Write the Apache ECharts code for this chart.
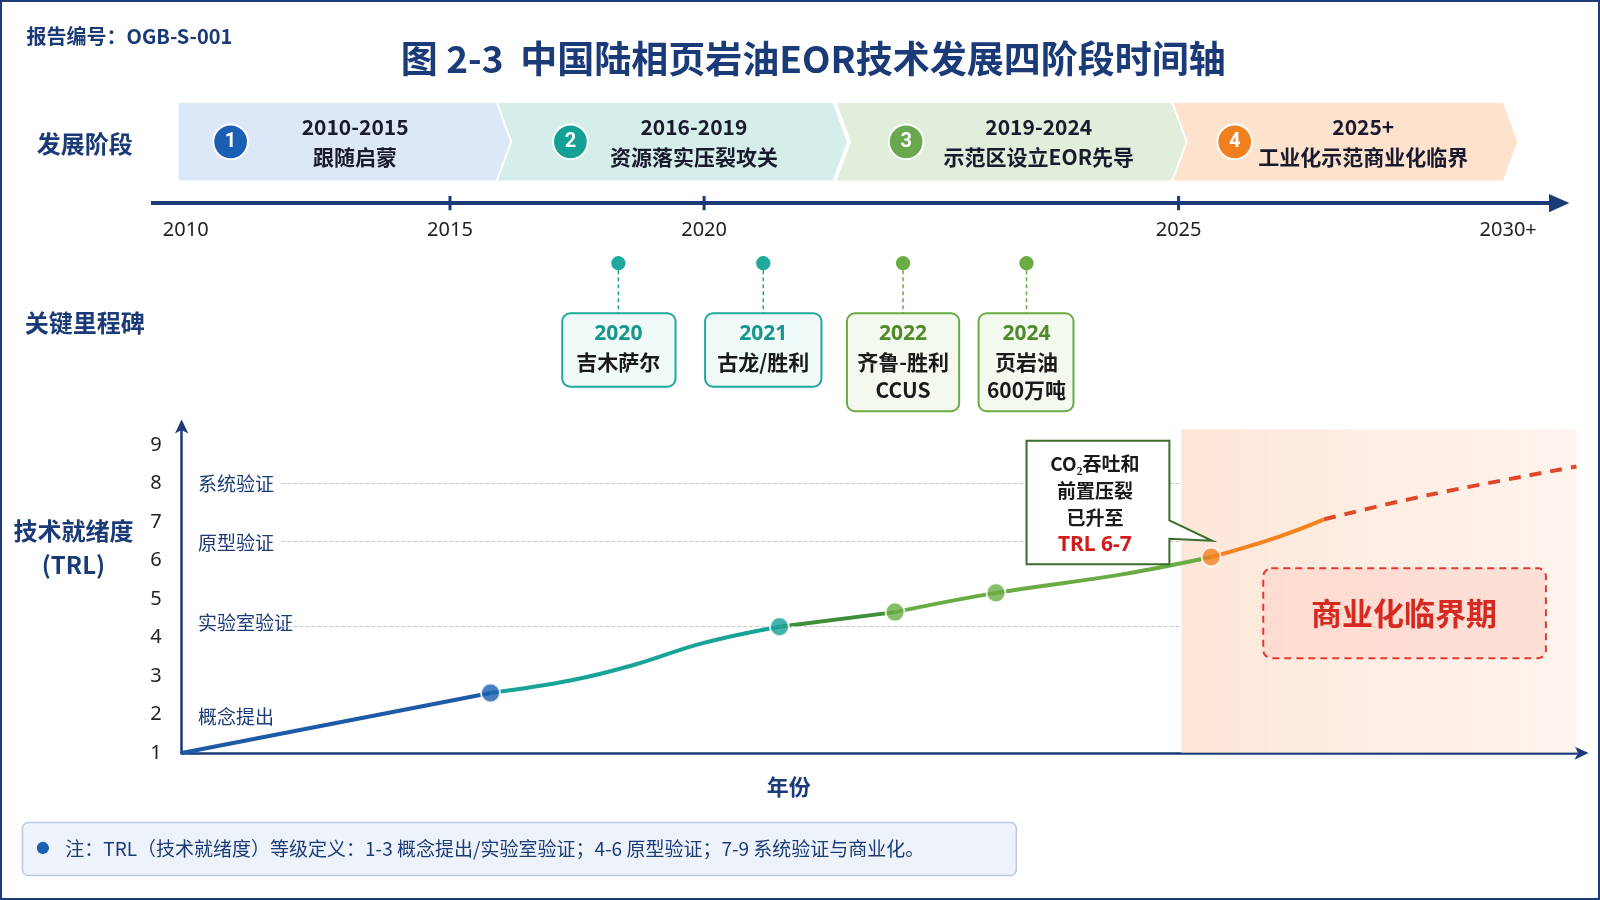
<!DOCTYPE html>
<html><head><meta charset="utf-8">
<script src="https://cdn.jsdelivr.net/npm/echarts@6/dist/echarts.min.js"></script>
<style>html,body{margin:0;background:#fff}#c{width:1600px;height:900px}</style></head>
<body><div id="c"></div>
<script>
// ---- data ----
const stageNums = ['1','2','3','4'];
const stagePeriods = ['2010-2015','2016-2019','2019-2024','2025+'];
const stageNames = ['跟随启蒙','资源落实压裂攻关','示范区设立EOR先导','工业化示范商业化临界'];
const timelineLabels = ['2010','2015','2020','2025','2030+'];
const milestoneYears = ['2020','2021','2022','2024'];
const milestoneTexts = ['吉木萨尔','古龙/胜利','齐鲁-胜利\nCCUS','页岩油\n600万吨'];
const trlLevels = [8, 6.5, 4.3];
const trlLevelNames = ['系统验证','原型验证','实验室验证'];
const seg1X = [2010, 2014.65], seg1Y = [1, 2.56];
const seg2X = [2014.65, 2015.87, 2016.79, 2017.86, 2019.0], seg2Y = [2.56, 2.89, 3.28, 3.86, 4.28];
const seg3X = [2019.0, 2020.74], seg3Y = [4.28, 4.66];
const seg4X = [2020.74, 2022.26, 2024.16, 2025.5], seg4Y = [4.66, 5.16, 5.64, 6.09];
const seg5X = [2025.5, 2026.47, 2027.2], seg5Y = [6.09, 6.59, 7.07];
const seg6X = [2027.2, 2028.77, 2031], seg6Y = [7.07, 7.7, 8.44];
const keyX = [2014.65, 2019.0, 2020.74, 2022.26, 2025.5], keyY = [2.56, 4.28, 4.66, 5.16, 6.09];

const k = 1600/1568;
const S = v => v*k;
const navy = '#1b3a78';
const zip = (a,b)=>a.map((v,i)=>[v,b[i]]);

const g = [];
// border
g.push({type:'rect',shape:{x:1,y:1,width:1598,height:898},style:{fill:'none',stroke:'#1b3a78',lineWidth:2},silent:true});
g.push({type:'text',x:S(26),y:S(36),style:{text:'报告编号：OGB-S-001',font:'bold 20px "Noto Sans CJK SC"',fill:navy,verticalAlign:'middle'}});
g.push({type:'text',x:S(797),y:S(58),style:{text:'图 2-3  中国陆相页岩油EOR技术发展四阶段时间轴',font:'bold 37px "Noto Sans CJK SC"',fill:navy,align:'center',verticalAlign:'middle'}});
[['发展阶段',141],['关键里程碑',316]].forEach(([t,y])=>g.push({type:'text',x:S(83),y:S(y),style:{text:t,font:'bold 24px "Noto Sans CJK SC"',fill:navy,align:'center',verticalAlign:'middle'}}));
g.push({type:'text',x:S(72),y:S(537),style:{text:'技术就绪度\n(TRL)',font:'bold 24px "Noto Sans CJK SC"',fill:navy,align:'center',verticalAlign:'middle',lineHeight:34}});

// stages
const stX = [[175,500],[488,830],[820,1162],[1150,1487]];
const stFill = ['#dce7f7','#d5eeea','#e1eedb','#fde2cd'];
const stCirc = ['#1a5fb4','#14a094','#6aa84f','#f07f1f'];
const stCx = [226,559,888,1210], stTx = [348,680,1018,1336];
stX.forEach(([a,b],i)=>{
  const pts = [[a,101],[b-14,101],[b,139],[b-14,177],[a,177]];
  if(i>0) pts.push([a+14,139]);
  g.push({type:'polygon',shape:{points:pts.map(p=>[S(p[0]),S(p[1])])},style:{fill:stFill[i]},z:1});
  g.push({type:'circle',shape:{cx:S(stCx[i]),cy:S(139),r:S(17)},style:{fill:stCirc[i],stroke:'#fff',lineWidth:2},z:2});
  g.push({type:'text',x:S(stCx[i]),y:S(139),style:{text:stageNums[i],font:'bold 20px Roboto',fill:'#fff',align:'center',verticalAlign:'middle'},z:3});
  g.push({type:'text',x:S(stTx[i]),y:S(139),style:{text:stagePeriods[i]+'\n'+stageNames[i],font:'bold 21px "Noto Sans CJK SC"',fill:'#1a1a2e',align:'center',verticalAlign:'middle',lineHeight:30},z:3});
});
// timeline
g.push({type:'line',shape:{x1:S(148),y1:S(199),x2:S(1522),y2:S(199)},style:{stroke:navy,lineWidth:4}});
g.push({type:'polygon',shape:{points:[[S(1518),S(190)],[S(1538),S(199)],[S(1518),S(208)]]},style:{fill:navy}});
const tlX = [182,441,690,1155,1478];
tlX.forEach((x,i)=>{
  if(i>0&&i<4) g.push({type:'line',shape:{x1:S(x),y1:S(192),x2:S(x),y2:S(206)},style:{stroke:navy,lineWidth:3}});
  g.push({type:'text',x:S(x),y:S(226),style:{text:timelineLabels[i],font:'20px "Noto Sans"',fill:'#222',align:'center',verticalAlign:'middle'}});
});
// milestones
const msX=[606,748,885,1006], msBox=[[551,662,379],[691,805,379],[830,940,403],[959,1052,403]];
const msCol=['#1fa89c','#1fa89c','#6aac44','#6aac44'], msTxt=['#17968b','#17968b','#4f8b2a','#4f8b2a'];
const msFill=['#f0faf8','#f0faf8','#f4f9ef','#f4f9ef'];
msX.forEach((x,i)=>{
  g.push({type:'line',shape:{x1:S(x),y1:S(258),x2:S(x),y2:S(307)},style:{stroke:msCol[i],lineWidth:1.5,lineDash:[4,3]}});
  g.push({type:'circle',shape:{cx:S(x),cy:S(258),r:S(7)},style:{fill:msCol[i]}});
  const [a,b,bt]=msBox[i];
  g.push({type:'rect',shape:{x:S(a),y:S(307),width:S(b-a),height:S(bt-307),r:8},style:{fill:msFill[i],stroke:msCol[i],lineWidth:2}});
  g.push({type:'text',x:S(x),y:S(327),style:{text:milestoneYears[i],font:'bold 21px "Noto Sans"',fill:msTxt[i],align:'center',verticalAlign:'middle'}});
  g.push({type:'text',x:S(x),y:S(341),style:{text:milestoneTexts[i],font:'bold 21px "Noto Sans CJK SC"',fill:'#1a1a1a',align:'center',verticalAlign:'top',lineHeight:28}});
});
// trl level labels
[['系统验证',474],['原型验证',532],['实验室验证',610],['概念提出',702]].forEach(([t,y])=>g.push({type:'text',x:S(194),y:S(y),style:{text:t,font:'19px "Noto Sans CJK SC"',fill:navy,verticalAlign:'middle'},z:5}));
// callout
g.push({type:'polygon',shape:{points:[[1006,432],[1146,432],[1146,510],[1188,530],[1146,528],[1146,553],[1006,553]].map(p=>[S(p[0]),S(p[1])])},style:{fill:'#fff',stroke:'#3b6e2c',lineWidth:2},z:10});
g.push({type:'text',x:S(1073),y:S(494),style:{text:'{a|CO₂吞吐和}\n{a|前置压裂}\n{a|已升至}\n{b|TRL 6-7}',align:'center',verticalAlign:'middle',rich:{a:{font:'bold 19px "Noto Sans CJK SC"',fill:'#1a1a1a',lineHeight:27,align:'center'},b:{font:'bold 21px "Noto Sans"',fill:'#d01c1c',lineHeight:27,align:'center'}}},z:11});
// commercial box
g.push({type:'rect',shape:{x:S(1238),y:S(557),width:S(277),height:S(88),r:8},style:{fill:'rgba(253,215,205,0.7)',stroke:'#e03a32',lineWidth:2,lineDash:[7,5]},z:6});
g.push({type:'text',x:S(1376),y:S(601),style:{text:'商业化临界期',font:'bold 31px "Noto Sans CJK SC"',fill:'#d42a22',align:'center',verticalAlign:'middle'},z:7});
g.push({type:'text',x:S(773),y:S(771),style:{text:'年份',font:'bold 22px "Noto Sans CJK SC"',fill:navy,align:'center',verticalAlign:'middle'}});
// note
g.push({type:'rect',shape:{x:S(22),y:S(806),width:S(974),height:S(52),r:6},style:{fill:'#eef3fb',stroke:'#b9c8e0',lineWidth:1.5}});
g.push({type:'circle',shape:{cx:S(42),cy:S(831),r:S(6)},style:{fill:'#1a5fb4'}});
g.push({type:'text',x:S(64),y:S(832),style:{text:'注：TRL（技术就绪度）等级定义：1-3 概念提出/实验室验证；4-6 原型验证；7-9 系统验证与商业化。',font:'19px "Noto Sans CJK SC"',fill:navy,verticalAlign:'middle'}});

const lineSeg=(data,color,extra={})=>Object.assign({type:'line',data,smooth:0.4,symbol:'none',lineStyle:{color,width:4},z:4},extra);
const chart = echarts.init(document.getElementById('c'));
chart.setOption({
  animation:false,
  grid:{left:S(178),right:1600-S(1545),top:S(421),bottom:900-S(738)},
  xAxis:{type:'value',min:2010,max:2031,axisLabel:{show:false},axisTick:{show:false},splitLine:{show:false},
    axisLine:{lineStyle:{color:navy,width:2.5},symbol:['none','arrow'],symbolSize:[10,14],symbolOffset:[0,12]}},
  yAxis:{type:'value',min:1,max:9.4,interval:1,splitLine:{show:false},axisTick:{show:false},
    axisLabel:{fontSize:20,color:'#222',margin:20,fontFamily:'Noto Sans',formatter:v=>v<=9?v:''},
    axisLine:{show:true,lineStyle:{color:navy,width:2.5},symbol:['none','arrow'],symbolSize:[10,14],symbolOffset:[0,10]}},
  graphic:g,
  series:[
    lineSeg(zip(seg1X,seg1Y),'#1d5aa8',{
      markArea:{silent:true,itemStyle:{color:{type:'linear',x:0,y:0,x2:1,y2:0,colorStops:[{offset:0,color:'rgba(252,214,190,0.6)'},{offset:1,color:'rgba(253,232,220,0.5)'}]}},data:[[{xAxis:2025.05},{xAxis:2031}]]},
      markLine:{silent:true,symbol:'none',label:{show:false},lineStyle:{color:'#c8c8c8',type:'dashed',width:1},
        data:trlLevels.map(v=>[{coord:[2011.5,v]},{coord:[2025.05,v]}])}
    }),
    lineSeg(zip(seg2X,seg2Y),'#17a398'),
    lineSeg(zip(seg3X,seg3Y),'#3f8f3a'),
    lineSeg(zip(seg4X,seg4Y),'#6aac44'),
    lineSeg(zip(seg5X,seg5Y),'#f5821f'),
    lineSeg(zip(seg6X,seg6Y),'#e0482a',{lineStyle:{color:'#e0482a',width:4,type:[12,9]}}),
    {type:'scatter',z:8,symbolSize:19,data:zip(keyX,keyY).map((p,i)=>({value:p,itemStyle:{color:['#1a5fb4','#14a094','#6aac44','#6aac44','#f5821f'][i],borderColor:'#fff',borderWidth:2}}))}
  ]
});
</script></body></html>
